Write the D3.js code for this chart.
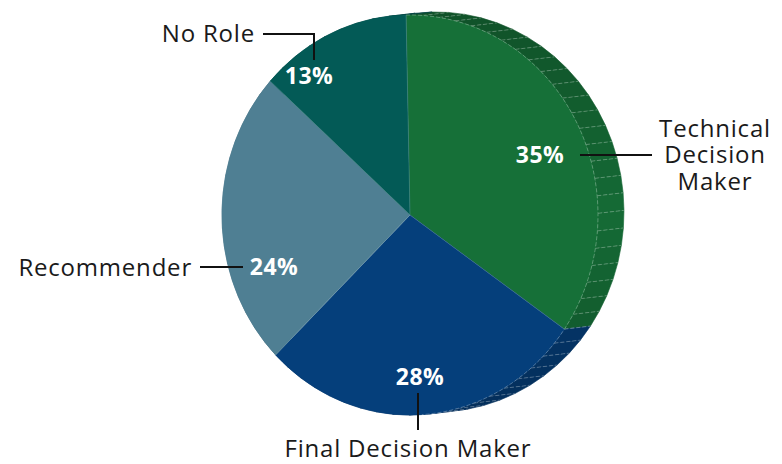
<!DOCTYPE html>
<html>
<head>
<meta charset="utf-8">
<script src="https://cdn.jsdelivr.net/npm/d3@7"></script>
<style>
  body { margin: 0; background: #fff; }
  svg text { font-family: "Open Sans", "Noto Sans", sans-serif; }
</style>
</head>
<body>
<div id="chart"></div>
<script>
// data
const categories = ["Technical Decision Maker", "Final Decision Maker", "Recommender", "No Role"];
const values = [35, 28, 24, 13];
const colors = ["#167038", "#053f7b", "#4f7f93", "#035a56"];

// label lines (text split for wrapping)
const labelLines = [["Technical", "Decision", "Maker"], ["Final Decision Maker"], ["Recommender"], ["No Role"]];

const width = 782, height = 464;
const cx = 410, cy = 215, rx = 188, ry = 200;
const depthX = 26, depthY = -3;
const startAngle = -1.2 * Math.PI / 180;

const svg = d3.select("#chart")
  .append("svg")
  .attr("width", width)
  .attr("height", height);

const pie = d3.pie()
  .sort(null)
  .startAngle(startAngle)
  .endAngle(startAngle + 2 * Math.PI)(values);

// point on the tilted pie (angle measured clockwise from 12 o'clock)
const front = a => [cx + rx * Math.sin(a), cy - ry * Math.cos(a)];
const back = a => [cx + depthX + rx * Math.sin(a), cy + depthY - ry * Math.cos(a)];

const sideLayer = svg.append("g").attr("class", "sides");
const faceLayer = svg.append("g").attr("class", "faces");
const labelLayer = svg.append("g").attr("class", "labels");

// side facets, about 5 degrees each
const step = 5 * Math.PI / 180;
pie.forEach((d, i) => {
  const n = Math.max(1, Math.round((d.endAngle - d.startAngle) / step));
  const angles = d3.range(n + 1).map(k => d.startAngle + (d.endAngle - d.startAngle) * k / n);
  for (let k = 0; k < n; k++) {
    const a0 = angles[k], a1 = angles[k + 1];
    const mid = (a0 + a1) / 2;
    const shade = 0.12 + 0.75 * Math.abs(Math.cos(mid));
    sideLayer.append("path")
      .attr("d", d3.line()([front(a0), front(a1), back(a1), back(a0)]) + "Z")
      .attr("fill", d3.color(colors[i]).darker(shade))
      .attr("stroke", d3.color(colors[i]).darker(shade))
      .attr("stroke-width", 0.6);
  }
  // facet edges
  angles.forEach(a => {
    const s = Math.sin(a);
    if (s < 0.05) return;
    sideLayer.append("line")
      .attr("x1", front(a)[0]).attr("y1", front(a)[1])
      .attr("x2", back(a)[0]).attr("y2", back(a)[1])
      .attr("stroke", "#ffffff")
      .attr("stroke-opacity", 0.35)
      .attr("stroke-width", 0.8)
      .attr("stroke-dasharray", "4,2");
  });
});

// top faces
const arcPoints = (a0, a1) => {
  const n = Math.max(2, Math.ceil((a1 - a0) / (Math.PI / 180)));
  return d3.range(n + 1).map(k => front(a0 + (a1 - a0) * k / n));
};

pie.forEach((d, i) => {
  const pts = [[cx, cy]].concat(arcPoints(d.startAngle, d.endAngle));
  faceLayer.append("path")
    .attr("d", d3.line()(pts) + "Z")
    .attr("fill", colors[i])
    .attr("stroke", colors[i])
    .attr("stroke-width", 0.5);
});

// slice edges on face
pie.forEach(d => {
  const p = front(d.startAngle);
  faceLayer.append("line")
    .attr("x1", cx).attr("y1", cy)
    .attr("x2", p[0]).attr("y2", p[1])
    .attr("stroke", "#ffffff")
    .attr("stroke-opacity", 0.2)
    .attr("stroke-width", 0.8);
});

// rim line where the side shows
faceLayer.append("path")
  .attr("d", d3.line()(arcPoints(startAngle, Math.PI * 0.98)))
  .attr("fill", "none")
  .attr("stroke", "#ffffff")
  .attr("stroke-opacity", 0.35)
  .attr("stroke-width", 0.8)
  .attr("stroke-dasharray", "4,2");

// label layout: percentage position, leader path, category text
const layout = [
  { pct: [540, 155], leader: [[580, 155], [652, 155]], text: [715, 128], anchor: "middle" },
  { pct: [420, 377], leader: [[418, 393], [418, 430]], text: [408, 448], anchor: "middle" },
  { pct: [274, 267], leader: [[200, 267], [243, 267]], text: [192, 267], anchor: "end" },
  { pct: [309, 76], leader: [[263, 34], [314, 34], [314, 60]], text: [255, 33], anchor: "end" }
];

pie.forEach((d, i) => {
  const L = layout[i];
  labelLayer.append("text")
    .attr("x", L.pct[0])
    .attr("y", L.pct[1])
    .attr("dy", "0.36em")
    .attr("text-anchor", "middle")
    .attr("font-size", "23px")
    .attr("font-weight", "bold")
    .attr("letter-spacing", "0.5px")
    .attr("fill", "#ffffff")
    .text(values[i] + "%");

  labelLayer.append("path")
    .attr("d", d3.line()(L.leader))
    .attr("fill", "none")
    .attr("stroke", "#111")
    .attr("stroke-width", 2);

  const t = labelLayer.append("text")
    .attr("x", L.text[0])
    .attr("y", L.text[1])
    .attr("text-anchor", L.anchor)
    .attr("font-size", "24px")
    .attr("font-weight", 400)
    .attr("letter-spacing", "0.8px")
    .attr("fill", "#1a1a1a");
  labelLines[i].forEach((line, j) => {
    t.append("tspan")
      .attr("x", L.text[0])
      .attr("y", L.text[1] + j * 26.5)
      .attr("dy", "0.36em")
      .text(line);
  });
});
</script>
</body>
</html>
